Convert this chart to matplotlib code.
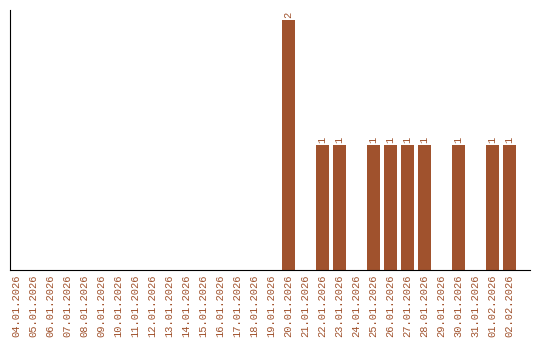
import matplotlib
matplotlib.use("Agg")
import matplotlib.pyplot as plt
import numpy as np

dates = ["04.01.2026", "05.01.2026", "06.01.2026", "07.01.2026", "08.01.2026",
         "09.01.2026", "10.01.2026", "11.01.2026", "12.01.2026", "13.01.2026",
         "14.01.2026", "15.01.2026", "16.01.2026", "17.01.2026", "18.01.2026",
         "19.01.2026", "20.01.2026", "21.01.2026", "22.01.2026", "23.01.2026",
         "24.01.2026", "25.01.2026", "26.01.2026", "27.01.2026", "28.01.2026",
         "29.01.2026", "30.01.2026", "31.01.2026", "01.02.2026", "02.02.2026"]
counts = [0, 0, 0, 0, 0, 0, 0, 0, 0, 0, 0, 0, 0, 0, 0, 0,
          2, 0, 1, 1, 0, 1, 1, 1, 1, 0, 1, 0, 1, 1]

color = "#A0522D"
mono = "Liberation Mono"

figure = plt.figure(figsize=(5.4, 3.4), dpi=100)
axes = figure.add_axes([10 / 540, 70 / 340, 520 / 540, 260 / 340])

x = np.arange(len(dates))
axes.bar(x, counts, width=0.8, color=color)

for xi, c in zip(x, counts):
    if c > 0:
        axes.text(xi, c + 0.02, str(c), rotation=90, ha="center", va="bottom",
                  color=color, fontsize=7.5, family=mono)

axes.set_xticks(x)
axes.set_xticklabels(dates, rotation=90, color=color, fontsize=7.5, family=mono)
axes.tick_params(axis="x", length=0, pad=3)
axes.set_yticks([])
axes.set_xlim(-0.4, len(dates) + 0.2)
axes.set_ylim(0, 2.08)
axes.spines["top"].set_visible(False)
axes.spines["right"].set_visible(False)

figure.savefig("out.png", dpi=100)
